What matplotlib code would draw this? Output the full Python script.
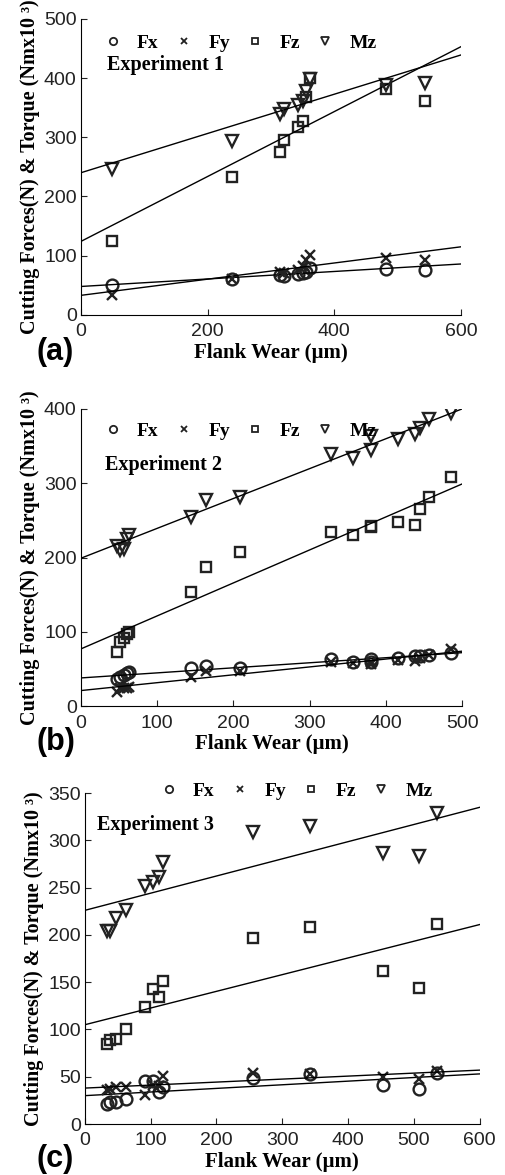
import matplotlib
matplotlib.use('Agg')
import numpy as np
import matplotlib.pyplot as plt

# ---- data ----
series = ['Fx', 'Fy', 'Fz', 'Mz']

# Experiment 1
x_a = [50, 238, 314, 320, 342, 350, 355, 362, 482, 543]
fx_a = [50, 60, 67, 66, 69, 70, 73, 79, 78, 76]
fy_a = [33, 60, 72, 70, 75, 82, 93, 101, 96, 92]
fz_a = [125, 233, 275, 295, 318, 327, 368, 400, 381, 362]
mz_a = [246, 294, 340, 347, 355, 362, 378, 398, 388, 391]
# fitted lines: value at left and right x-limit (Fx, Fy, Fz, Mz)
fit_a = [[48, 86], [33, 115], [124, 453], [240, 439]]

# Experiment 2
x_b = [48, 52, 56, 60, 63, 145, 164, 209, 328, 357, 380, 381, 416, 438, 445, 457, 486]
fx_b = [36, 39, 42, 45, 46, 51, 54, 51, 63, 59, 63, 59, 65, 67, 68, 69, 71]
fy_b = [19, 24, 25, 25, 26, 39, 48, 48, 60, 58, 57, 60, 62, 61, 65, 69, 77]
fz_b = [73, 87, 92, 97, 100, 153, 187, 208, 235, 230, 242, 241, 248, 244, 265, 282, 308]
mz_b = [215, 210, 212, 225, 230, 255, 277, 282, 339, 334, 363, 345, 359, 366, 374, 386, 395]
fit_b = [[38, 72], [21, 74], [77, 299], [199, 400]]

# Experiment 3
x_c = [33, 38, 48, 62, 92, 103, 112, 118, 256, 342, 453, 508, 535]
fx_c = [21, 23, 23, 26, 45, 45, 34, 39, 49, 53, 41, 37, 54]
fy_c = [36, 37, 39, 39, 31, 41, 40, 51, 54, 53, 50, 48, 56]
fz_c = [85, 89, 90, 100, 124, 143, 134, 151, 197, 208, 162, 144, 212]
mz_c = [204, 204, 218, 226, 252, 256, 261, 277, 309, 315, 287, 284, 329]
fit_c = [[30, 53], [38, 57], [105, 211], [226, 335]]

xlims = [600, 500, 600]
ylims = [500, 400, 350]
xtick_steps = [200, 100, 100]
ytick_steps = [100, 100, 50]
titles = ['Experiment 1', 'Experiment 2', 'Experiment 3']
letters = ['(a)', '(b)', '(c)']

markers = ['o', 'x', 's', 'v']
sizes = [8.5, 6.5, 7, 8.5]

serif = ['Liberation Serif', 'DejaVu Serif']
plt.rcParams['font.family'] = ['Liberation Sans', 'DejaVu Sans']

fig = plt.figure(figsize=(5.05, 11.75), dpi=100)
boxes = [[0.160, 0.732, 0.753, 0.252],
         [0.160, 0.399, 0.755, 0.253],
         [0.168, 0.0434, 0.782, 0.2816]]

panels = [(x_a, [fx_a, fy_a, fz_a, mz_a], fit_a),
          (x_b, [fx_b, fy_b, fz_b, mz_b], fit_b),
          (x_c, [fx_c, fy_c, fz_c, mz_c], fit_c)]

legend_pos = [(0.043, 0.975), (0.043, 0.98), (0.173, 1.057)]
title_pos = [(0.07, 0.845), (0.063, 0.81), (0.03, 0.903)]
letter_y = [352, 742, 1159]

for i, (xs, ys, fits) in enumerate(panels):
    ax = fig.add_axes(boxes[i])
    for k, name in enumerate(series):
        ax.plot(xs, ys[k], linestyle='none', marker=markers[k], ms=sizes[k],
                mfc='none', mec='#222222', mew=1.7, label=name)
        ax.plot([0, xlims[i]], fits[k], color='black', lw=1.0)
    ax.set_xlim(0, xlims[i])
    ax.set_ylim(0, ylims[i])
    ax.set_xticks(np.arange(0, xlims[i] + 1, xtick_steps[i]))
    ax.set_yticks(np.arange(0, ylims[i] + 1, ytick_steps[i]))
    ax.spines['top'].set_visible(False)
    ax.spines['right'].set_visible(False)
    ax.tick_params(direction='in', length=4, labelsize=14, top=False,
                   right=False, colors='#222222')
    ax.tick_params(axis='x', pad=6)
    ax.tick_params(axis='y', pad=3)
    ax.set_xlabel('Flank Wear (µm)', family=serif, fontweight='bold',
                  fontsize=15, labelpad=2)
    ax.set_ylabel('Cutting Forces(N) & Torque (Nmx10 ³)', family=serif,
                  fontweight='bold', fontsize=14.5, labelpad=3)
    leg = ax.legend(loc='upper left', bbox_to_anchor=legend_pos[i], ncol=4,
                    frameon=False, markerscale=0.62, handlelength=0.8,
                    handletextpad=0.85, columnspacing=0.9, borderaxespad=0,
                    prop={'family': serif, 'weight': 'bold', 'size': 14})
    for h in leg.legend_handles:
        h.set_markeredgewidth(1.3)
    ax.text(title_pos[i][0], title_pos[i][1], titles[i], transform=ax.transAxes,
            family=serif, fontweight='bold', fontsize=14.5, va='center')
    fig.text(37 / 505, 1 - letter_y[i] / 1175, letters[i], fontsize=22,
             fontweight='bold', va='center', ha='left')

fig.savefig('out.png', dpi=100)
